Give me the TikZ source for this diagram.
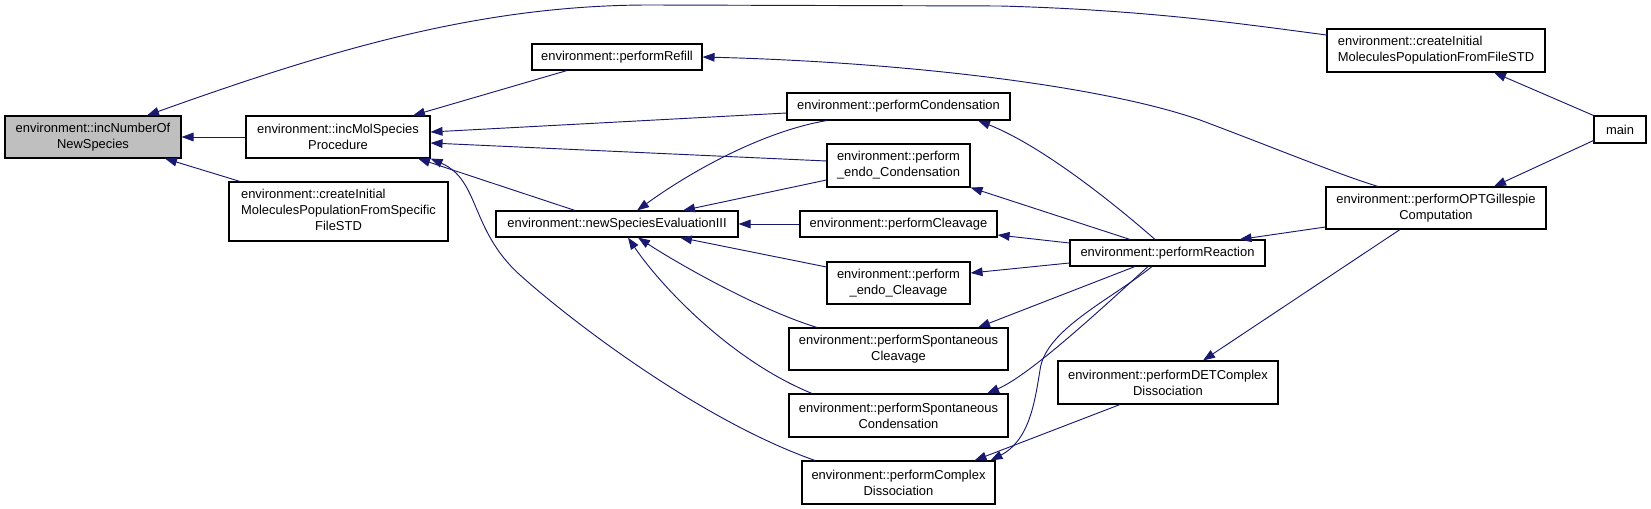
\documentclass[tikz,border=0pt]{standalone}
\usepackage{fontspec}
\setmainfont{Liberation Sans}
\usetikzlibrary{arrows.meta,calc}
\definecolor{edgeblue}{RGB}{25,25,112}
\definecolor{hlgray}{RGB}{191,191,191}
\begin{document}
\begin{tikzpicture}[x=0.75pt,y=-0.75pt,
  box/.style={draw=black, line width=0.8pt, rectangle, inner sep=0pt, align=center,
    font=\fontsize{9.7}{12}\selectfont},
  sz/.style 2 args={minimum width=#1*0.75pt, minimum height=#2*0.75pt},
  e/.style={draw=edgeblue, line width=0.7pt, {Triangle[length=9pt,width=6.5pt]}-}]
\useasboundingbox (0,0) rectangle (1651,509);

% nodes
\node[box, fill=hlgray, sz={176}{42}] (A) at (93,137) {environment::incNumberOf\\NewSpecies};
\node[box, sz={184}{42}] (B) at (338,137) {environment::incMolSpecies\\Procedure};
\node[box, sz={219}{59}] (C) at (338.5,211.5) {\begin{tabular}{@{}l@{}}environment::createInitial\\MoleculesPopulationFromSpecific\\\multicolumn{1}{@{}c@{}}{FileSTD}\end{tabular}};
\node[box, sz={170}{26}] (Refill) at (617,57) {environment::performRefill};
\node[box, sz={223}{27}] (Cond) at (898.5,106.5) {environment::performCondensation};
\node[box, sz={143}{43}] (endoCond) at (898.5,165.5) {environment::perform\\\_endo\_Condensation};
\node[box, sz={242}{26}] (N) at (617,224) {environment::newSpeciesEvaluationIII};
\node[box, sz={197}{26}] (Cleav) at (898.5,224) {environment::performCleavage};
\node[box, sz={143}{42}] (endoCleav) at (898.5,283) {environment::perform\\\_endo\_Cleavage};
\node[box, sz={219}{42}] (SpCleav) at (898.5,349) {environment::performSpontaneous\\Cleavage};
\node[box, sz={219}{43}] (SpCond) at (898.5,415.5) {environment::performSpontaneous\\Condensation};
\node[box, sz={193}{43}] (CDiss) at (898.5,482.5) {environment::performComplex\\Dissociation};
\node[box, sz={195}{26}] (R) at (1167.5,253) {environment::performReaction};
\node[box, sz={220}{43}] (DET) at (1168,382.5) {environment::performDETComplex\\Dissociation};
\node[box, sz={218}{43}] (FS) at (1436,50.5) {\begin{tabular}{@{}l@{}}environment::createInitial\\MoleculesPopulationFromFileSTD\end{tabular}};
\node[box, sz={220}{42}] (OPT) at (1436,208) {environment::performOPTGillespie\\Computation};
\node[box, sz={52}{27}] (main) at (1620,129.5) {main};

% edges (arrow tip at the called function)
\draw[e] (A.east) -- (B.west);
\draw[e] ($(A.north)+(54,0)$) .. controls (330,50) and (480,5) .. (650,5) -- (1000,6) .. controls (1150,10) and (1250,25) .. ($(FS.west)+(0,-15.5)$);
\draw[e] ($(A.south)+(72,0)$) -- ($(C.north)+(-98.5,0)$);
\draw[e] ($(B.north)+(75,0)$) -- ($(Refill.south)+(-50,0)$);
\draw[e] ($(B.east)+(0,-5)$) -- ($(Cond.west)+(0,6.5)$);
\draw[e] ($(B.east)+(0,6)$) -- ($(endoCond.west)+(0,-4.5)$);
\draw[e] ($(B.south)+(80,0)$) -- ($(N.north)+(-42,0)$);
\draw[e] (B.south east) .. controls (480,180) and (470,230) .. (520,275) .. controls (570,320) and (700,420) .. ($(CDiss.north)+(-83.5,0)$);

\draw[e] ($(N.north)+(20,0)$) .. controls (700,165) and (770,130) .. ($(Cond.south)+(-71.5,0)$);
\draw[e] ($(N.north)+(66,0)$) -- ($(endoCond.west)+(0,14.5)$);
\draw[e] (N.east) -- (Cleav.west);
\draw[e] ($(N.south)+(63,0)$) -- ($(endoCleav.west)+(0,-16)$);
\draw[e] ($(N.south)+(21,0)$) .. controls (680,265) and (760,310) .. ($(SpCleav.north)+(-81.5,0)$);
\draw[e] ($(N.south)+(11,0)$) .. controls (660,285) and (730,360) .. ($(SpCond.north)+(-86.5,0)$);

\draw[e] ($(Cond.south)+(79.5,0)$) .. controls (1040,145) and (1110,200) .. ($(R.north)+(-12.5,0)$);
\draw[e] (endoCond.south east) -- ($(R.north)+(-37.5,0)$);
\draw[e] ($(Cleav.east)+(0,11)$) -- ($(R.west)+(0,-10)$);
\draw[e] ($(endoCleav.east)+(0,-10)$) -- ($(R.west)+(0,10)$);
\draw[e] ($(SpCleav.north)+(79.5,0)$) -- ($(R.south)+(-32.5,0)$);
\draw[e] ($(SpCond.north)+(88.5,0)$) .. controls (1030,375) and (1100,310) .. ($(R.south)+(-19.5,0)$);
\draw[e] ($(CDiss.north)+(92,0)$) .. controls (1030,440) and (1035,400) .. (1040,370) .. controls (1045,330) and (1110,300) .. ($(R.south)+(-15.5,0)$);
\draw[e] ($(CDiss.north)+(76,0)$) -- ($(DET.south)+(-48,0)$);

\draw[e] ($(R.north)+(72,0)$) -- ($(OPT.west)+(0,19)$);
\draw[e] ($(DET.north)+(35,0)$) -- ($(OPT.south)+(-36,0)$);
\draw[e] (Refill.east) .. controls (900,62) and (1100,85) .. (1200,120) .. controls (1280,150) and (1340,175) .. ($(OPT.north)+(-58,0)$);
\draw[e] ($(FS.south)+(58,0)$) -- (main.north west);
\draw[e] ($(OPT.north)+(58,0)$) -- ($(main.south west)+(0,-3)$);
\end{tikzpicture}
\end{document}
